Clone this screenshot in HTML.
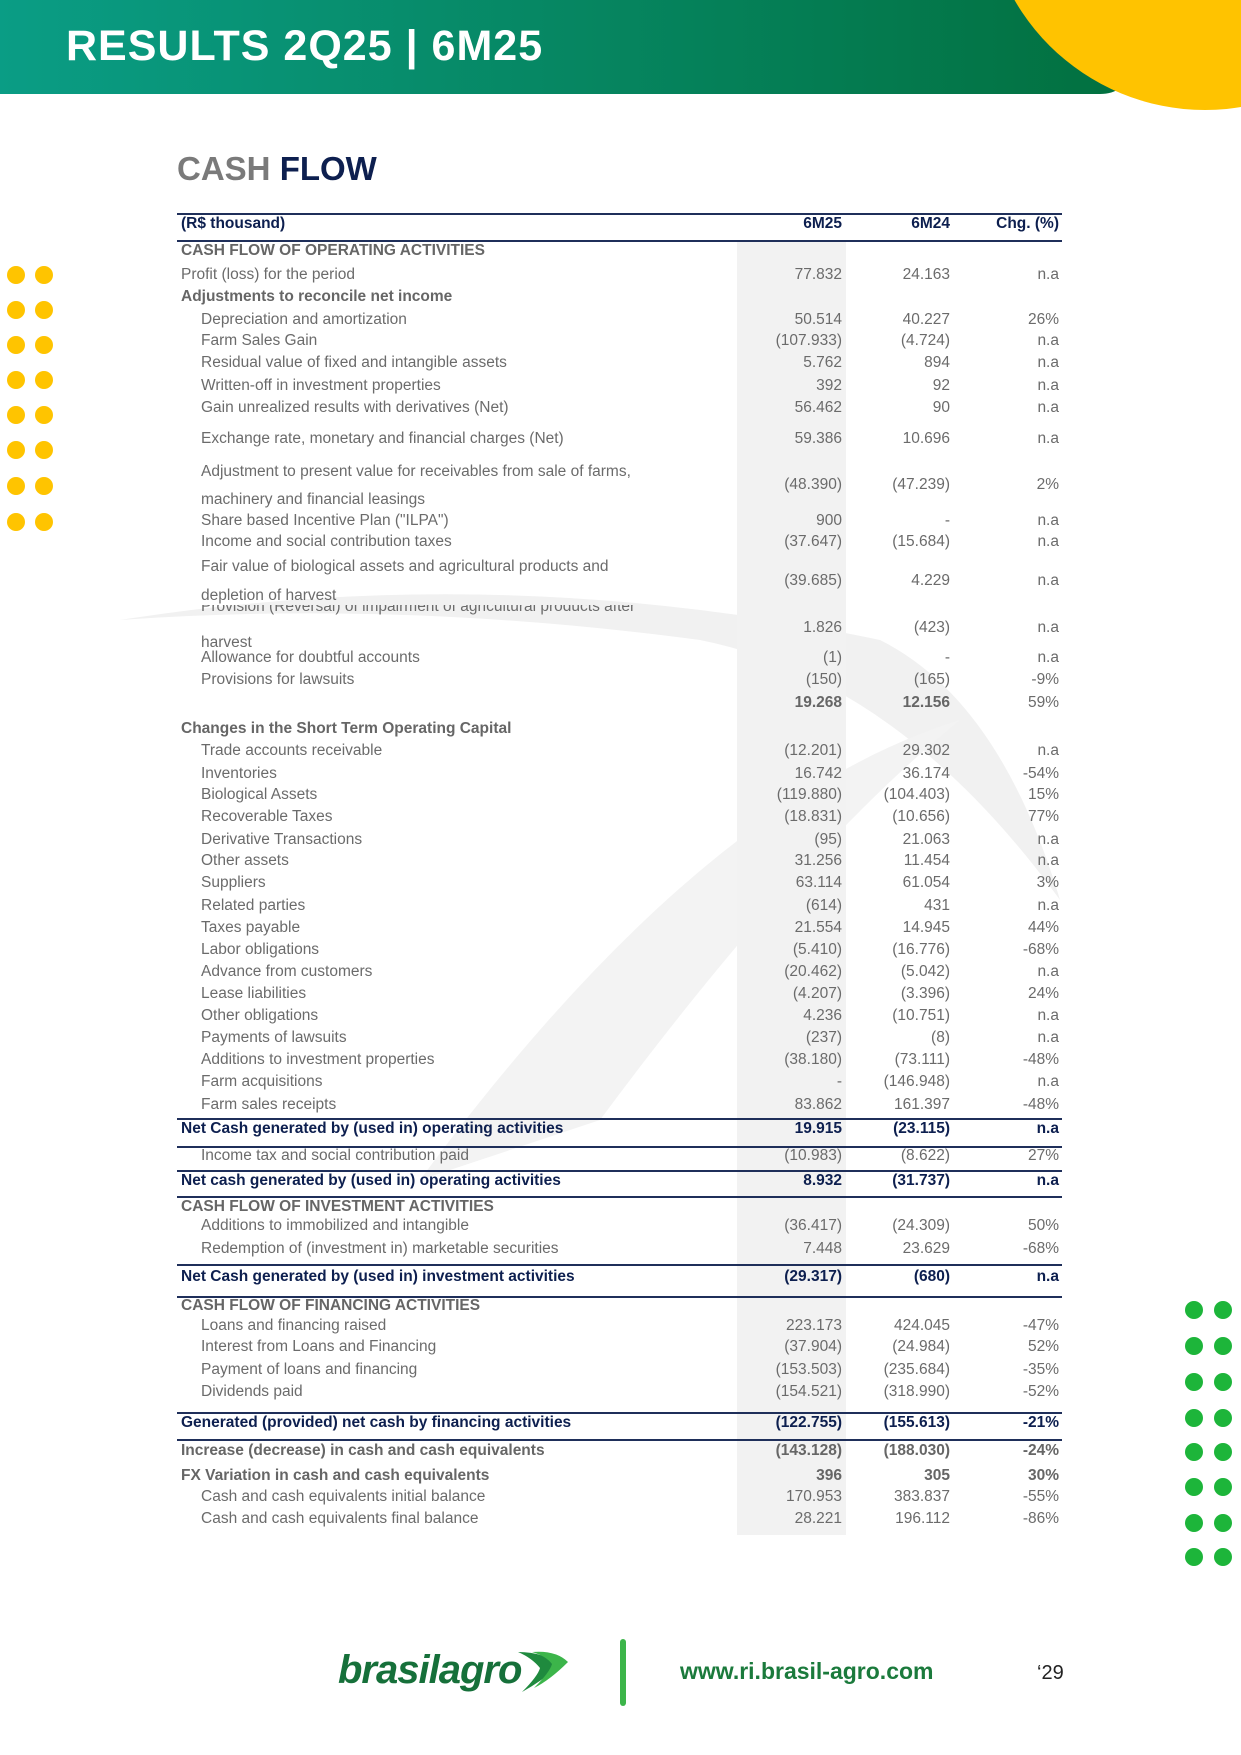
<!DOCTYPE html>
<html><head><meta charset="utf-8"><style>
*{margin:0;padding:0;box-sizing:border-box}
body{width:1241px;height:1755px;position:relative;background:#fff;font-family:"Liberation Sans",sans-serif;overflow:hidden}
.a{position:absolute}
.r{position:absolute;left:177px;width:885px;height:20px;line-height:20px;font-size:15.5px;color:#6b6b6b;white-space:nowrap}
.r span{position:absolute;top:0}
.r .l{left:4px}.r .i{left:24px}
.r .c1{right:220px}.r .c2{right:112px}.r .c3{right:3px}
.b{color:#0d1f4f;font-weight:bold}
.g{color:#666;font-weight:bold}
.hl{position:absolute;left:177px;width:885px;height:2px;background:#1f2f5a}
.d{position:absolute;width:18px;height:18px;border-radius:50%}
</style></head><body>
<svg class="a" style="left:0;top:0" width="1241" height="1755">
<defs><linearGradient id="hg" x1="0" x2="1"><stop offset="0" stop-color="#0a9d85"/><stop offset="1" stop-color="#02703f"/></linearGradient></defs>
<path d="M120 620 Q500 560 880 640 Q1000 700 1060 900 Q900 680 700 640 Q400 600 120 620Z" fill="#f1f1f1"/>
<path d="M420 1180 Q700 800 960 720 Q800 850 600 1120Z" fill="#f3f3f3"/>
<path d="M0 0H1130 V70 Q1125 94 1100 94 H0Z" fill="url(#hg)"/>
<circle cx="1205" cy="-110" r="220" fill="#ffc300"/>
<rect x="737" y="241" width="109" height="1294" fill="#f2f2f2"/>
<rect x="620" y="1639" width="6" height="67" rx="3" fill="#3cb54a"/>
<path d="M518 1652 Q545 1652 560 1666 Q540 1682 522 1692 Q538 1676 540 1668 Q532 1658 518 1652Z" fill="#1f8a3e"/>
<path d="M532 1652 Q556 1650 568 1662 Q550 1680 534 1688 Q550 1672 552 1664 Q546 1656 532 1652Z" fill="#3cb54a"/>
</svg>
<div class="a" style="left:66px;top:22px;font-size:43px;font-weight:bold;color:#fff;letter-spacing:1px">RESULTS 2Q25 | 6M25</div>
<div class="a" style="left:177px;top:150px;font-size:33px;font-weight:bold;color:#7a7a7a">CASH <span style="color:#0d1f4f">FLOW</span></div>

<div class="hl" style="top:213px"></div>
<div class="hl" style="top:240px"></div>
<div class="hl" style="top:1118px"></div>
<div class="hl" style="top:1146px"></div>
<div class="hl" style="top:1170px"></div>
<div class="hl" style="top:1196px"></div>
<div class="hl" style="top:1264px"></div>
<div class="hl" style="top:1296px"></div>
<div class="hl" style="top:1412px"></div>
<div class="hl" style="top:1439px"></div>

<div class="r b" style="top:214px"><span class="l">(R$ thousand)</span><span class="c1">6M25</span><span class="c2">6M24</span><span class="c3">Chg. (%)</span></div>
<div class="r g" style="top:241px"><span class="l">CASH FLOW OF OPERATING ACTIVITIES</span></div>
<div class="r" style="top:265px"><span class="l">Profit (loss) for the period</span><span class="c1">77.832</span><span class="c2">24.163</span><span class="c3">n.a</span></div>
<div class="r g" style="top:287px"><span class="l">Adjustments to reconcile net income</span></div>
<div class="r" style="top:310px"><span class="i">Depreciation and amortization</span><span class="c1">50.514</span><span class="c2">40.227</span><span class="c3">26%</span></div>
<div class="r" style="top:331px"><span class="i">Farm Sales Gain</span><span class="c1">(107.933)</span><span class="c2">(4.724)</span><span class="c3">n.a</span></div>
<div class="r" style="top:353px"><span class="i">Residual value of fixed and intangible assets</span><span class="c1">5.762</span><span class="c2">894</span><span class="c3">n.a</span></div>
<div class="r" style="top:376px"><span class="i">Written-off in investment properties</span><span class="c1">392</span><span class="c2">92</span><span class="c3">n.a</span></div>
<div class="r" style="top:398px"><span class="i">Gain unrealized results with derivatives (Net)</span><span class="c1">56.462</span><span class="c2">90</span><span class="c3">n.a</span></div>
<div class="r" style="top:429px"><span class="i">Exchange rate, monetary and financial charges (Net)</span><span class="c1">59.386</span><span class="c2">10.696</span><span class="c3">n.a</span></div>
<div class="r" style="top:462px"><span class="i">Adjustment to present value for receivables from sale of farms,</span></div>
<div class="r" style="top:490px"><span class="i">machinery and financial leasings</span></div>
<div class="r" style="top:475px"><span class="c1">(48.390)</span><span class="c2">(47.239)</span><span class="c3">2%</span></div>
<div class="r" style="top:511px"><span class="i">Share based Incentive Plan ("ILPA")</span><span class="c1">900</span><span class="c2">-</span><span class="c3">n.a</span></div>
<div class="r" style="top:532px"><span class="i">Income and social contribution taxes</span><span class="c1">(37.647)</span><span class="c2">(15.684)</span><span class="c3">n.a</span></div>
<div class="r" style="top:557px"><span class="i">Fair value of biological assets and agricultural products and</span></div>
<div class="r" style="top:586px"><span class="i">depletion of harvest</span></div>
<div class="r" style="top:571px"><span class="c1">(39.685)</span><span class="c2">4.229</span><span class="c3">n.a</span></div>
<div class="r" style="top:605px;height:10px;overflow:hidden;line-height:4px"><span class="i">Provision (Reversal) of impairment of agricultural products after</span></div>
<div class="r" style="top:633px"><span class="i">harvest</span></div>
<div class="r" style="top:618px"><span class="c1">1.826</span><span class="c2">(423)</span><span class="c3">n.a</span></div>
<div class="r" style="top:648px"><span class="i">Allowance for doubtful accounts</span><span class="c1">(1)</span><span class="c2">-</span><span class="c3">n.a</span></div>
<div class="r" style="top:670px"><span class="i">Provisions for lawsuits</span><span class="c1">(150)</span><span class="c2">(165)</span><span class="c3">-9%</span></div>
<div class="r" style="top:693px"><span class="c1 g">19.268</span><span class="c2 g">12.156</span><span class="c3">59%</span></div>
<div class="r g" style="top:719px"><span class="l">Changes in the Short Term Operating Capital</span></div>
<div class="r" style="top:741px"><span class="i">Trade accounts receivable</span><span class="c1">(12.201)</span><span class="c2">29.302</span><span class="c3">n.a</span></div>
<div class="r" style="top:764px"><span class="i">Inventories</span><span class="c1">16.742</span><span class="c2">36.174</span><span class="c3">-54%</span></div>
<div class="r" style="top:785px"><span class="i">Biological Assets</span><span class="c1">(119.880)</span><span class="c2">(104.403)</span><span class="c3">15%</span></div>
<div class="r" style="top:807px"><span class="i">Recoverable Taxes</span><span class="c1">(18.831)</span><span class="c2">(10.656)</span><span class="c3">77%</span></div>
<div class="r" style="top:830px"><span class="i">Derivative Transactions</span><span class="c1">(95)</span><span class="c2">21.063</span><span class="c3">n.a</span></div>
<div class="r" style="top:851px"><span class="i">Other assets</span><span class="c1">31.256</span><span class="c2">11.454</span><span class="c3">n.a</span></div>
<div class="r" style="top:873px"><span class="i">Suppliers</span><span class="c1">63.114</span><span class="c2">61.054</span><span class="c3">3%</span></div>
<div class="r" style="top:896px"><span class="i">Related parties</span><span class="c1">(614)</span><span class="c2">431</span><span class="c3">n.a</span></div>
<div class="r" style="top:918px"><span class="i">Taxes payable</span><span class="c1">21.554</span><span class="c2">14.945</span><span class="c3">44%</span></div>
<div class="r" style="top:940px"><span class="i">Labor obligations</span><span class="c1">(5.410)</span><span class="c2">(16.776)</span><span class="c3">-68%</span></div>
<div class="r" style="top:962px"><span class="i">Advance from customers</span><span class="c1">(20.462)</span><span class="c2">(5.042)</span><span class="c3">n.a</span></div>
<div class="r" style="top:984px"><span class="i">Lease liabilities</span><span class="c1">(4.207)</span><span class="c2">(3.396)</span><span class="c3">24%</span></div>
<div class="r" style="top:1006px"><span class="i">Other obligations</span><span class="c1">4.236</span><span class="c2">(10.751)</span><span class="c3">n.a</span></div>
<div class="r" style="top:1028px"><span class="i">Payments of lawsuits</span><span class="c1">(237)</span><span class="c2">(8)</span><span class="c3">n.a</span></div>
<div class="r" style="top:1050px"><span class="i">Additions to investment properties</span><span class="c1">(38.180)</span><span class="c2">(73.111)</span><span class="c3">-48%</span></div>
<div class="r" style="top:1072px"><span class="i">Farm acquisitions</span><span class="c1">-</span><span class="c2">(146.948)</span><span class="c3">n.a</span></div>
<div class="r" style="top:1095px"><span class="i">Farm sales receipts</span><span class="c1">83.862</span><span class="c2">161.397</span><span class="c3">-48%</span></div>
<div class="r b" style="top:1119px"><span class="l">Net Cash generated by (used in) operating activities</span><span class="c1">19.915</span><span class="c2">(23.115)</span><span class="c3">n.a</span></div>
<div class="r" style="top:1146px"><span class="i">Income tax and social contribution paid</span><span class="c1">(10.983)</span><span class="c2">(8.622)</span><span class="c3">27%</span></div>
<div class="r b" style="top:1171px"><span class="l">Net cash generated by (used in) operating activities</span><span class="c1">8.932</span><span class="c2">(31.737)</span><span class="c3">n.a</span></div>
<div class="r g" style="top:1197px"><span class="l">CASH FLOW OF INVESTMENT ACTIVITIES</span></div>
<div class="r" style="top:1216px"><span class="i">Additions to immobilized and intangible</span><span class="c1">(36.417)</span><span class="c2">(24.309)</span><span class="c3">50%</span></div>
<div class="r" style="top:1239px"><span class="i">Redemption of (investment in) marketable securities</span><span class="c1">7.448</span><span class="c2">23.629</span><span class="c3">-68%</span></div>
<div class="r b" style="top:1267px"><span class="l">Net Cash generated by (used in) investment activities</span><span class="c1">(29.317)</span><span class="c2">(680)</span><span class="c3">n.a</span></div>
<div class="r g" style="top:1296px"><span class="l">CASH FLOW OF FINANCING ACTIVITIES</span></div>
<div class="r" style="top:1316px"><span class="i">Loans and financing raised</span><span class="c1">223.173</span><span class="c2">424.045</span><span class="c3">-47%</span></div>
<div class="r" style="top:1337px"><span class="i">Interest from Loans and Financing</span><span class="c1">(37.904)</span><span class="c2">(24.984)</span><span class="c3">52%</span></div>
<div class="r" style="top:1360px"><span class="i">Payment of loans and financing</span><span class="c1">(153.503)</span><span class="c2">(235.684)</span><span class="c3">-35%</span></div>
<div class="r" style="top:1382px"><span class="i">Dividends paid</span><span class="c1">(154.521)</span><span class="c2">(318.990)</span><span class="c3">-52%</span></div>
<div class="r b" style="top:1413px"><span class="l">Generated (provided) net cash by financing activities</span><span class="c1">(122.755)</span><span class="c2">(155.613)</span><span class="c3">-21%</span></div>
<div class="r g" style="top:1441px"><span class="l">Increase (decrease) in cash and cash equivalents</span><span class="c1">(143.128)</span><span class="c2">(188.030)</span><span class="c3">-24%</span></div>
<div class="r g" style="top:1466px"><span class="l">FX Variation in cash and cash equivalents</span><span class="c1">396</span><span class="c2">305</span><span class="c3">30%</span></div>
<div class="r" style="top:1487px"><span class="i">Cash and cash equivalents initial balance</span><span class="c1">170.953</span><span class="c2">383.837</span><span class="c3">-55%</span></div>
<div class="r" style="top:1509px"><span class="i">Cash and cash equivalents final balance</span><span class="c1">28.221</span><span class="c2">196.112</span><span class="c3">-86%</span></div>

<div class="d" style="left:7px;top:266px;background:#ffc400"></div><div class="d" style="left:35px;top:266px;background:#ffc400"></div>
<div class="d" style="left:7px;top:301px;background:#ffc400"></div><div class="d" style="left:35px;top:301px;background:#ffc400"></div>
<div class="d" style="left:7px;top:336px;background:#ffc400"></div><div class="d" style="left:35px;top:336px;background:#ffc400"></div>
<div class="d" style="left:7px;top:371px;background:#ffc400"></div><div class="d" style="left:35px;top:371px;background:#ffc400"></div>
<div class="d" style="left:7px;top:406px;background:#ffc400"></div><div class="d" style="left:35px;top:406px;background:#ffc400"></div>
<div class="d" style="left:7px;top:441px;background:#ffc400"></div><div class="d" style="left:35px;top:441px;background:#ffc400"></div>
<div class="d" style="left:7px;top:477px;background:#ffc400"></div><div class="d" style="left:35px;top:477px;background:#ffc400"></div>
<div class="d" style="left:7px;top:513px;background:#ffc400"></div><div class="d" style="left:35px;top:513px;background:#ffc400"></div>

<div class="d" style="left:1185px;top:1301px;background:#1db53a"></div><div class="d" style="left:1214px;top:1301px;background:#1db53a"></div>
<div class="d" style="left:1185px;top:1337px;background:#1db53a"></div><div class="d" style="left:1214px;top:1337px;background:#1db53a"></div>
<div class="d" style="left:1185px;top:1373px;background:#1db53a"></div><div class="d" style="left:1214px;top:1373px;background:#1db53a"></div>
<div class="d" style="left:1185px;top:1409px;background:#1db53a"></div><div class="d" style="left:1214px;top:1409px;background:#1db53a"></div>
<div class="d" style="left:1185px;top:1443px;background:#1db53a"></div><div class="d" style="left:1214px;top:1443px;background:#1db53a"></div>
<div class="d" style="left:1185px;top:1478px;background:#1db53a"></div><div class="d" style="left:1214px;top:1478px;background:#1db53a"></div>
<div class="d" style="left:1185px;top:1514px;background:#1db53a"></div><div class="d" style="left:1214px;top:1514px;background:#1db53a"></div>
<div class="d" style="left:1185px;top:1548px;background:#1db53a"></div><div class="d" style="left:1214px;top:1548px;background:#1db53a"></div>

<div class="a" style="left:338px;top:1648px;font-size:40px;font-style:italic;font-weight:bold;color:#16703a;letter-spacing:-1px">brasilagro</div>
<div class="a" style="left:680px;top:1658px;font-size:23px;font-weight:bold;color:#1b7a3c">www.ri.brasil-agro.com</div>
<div class="a" style="left:1037px;top:1662px;font-size:20px;color:#222">‘29</div>
</body></html>
